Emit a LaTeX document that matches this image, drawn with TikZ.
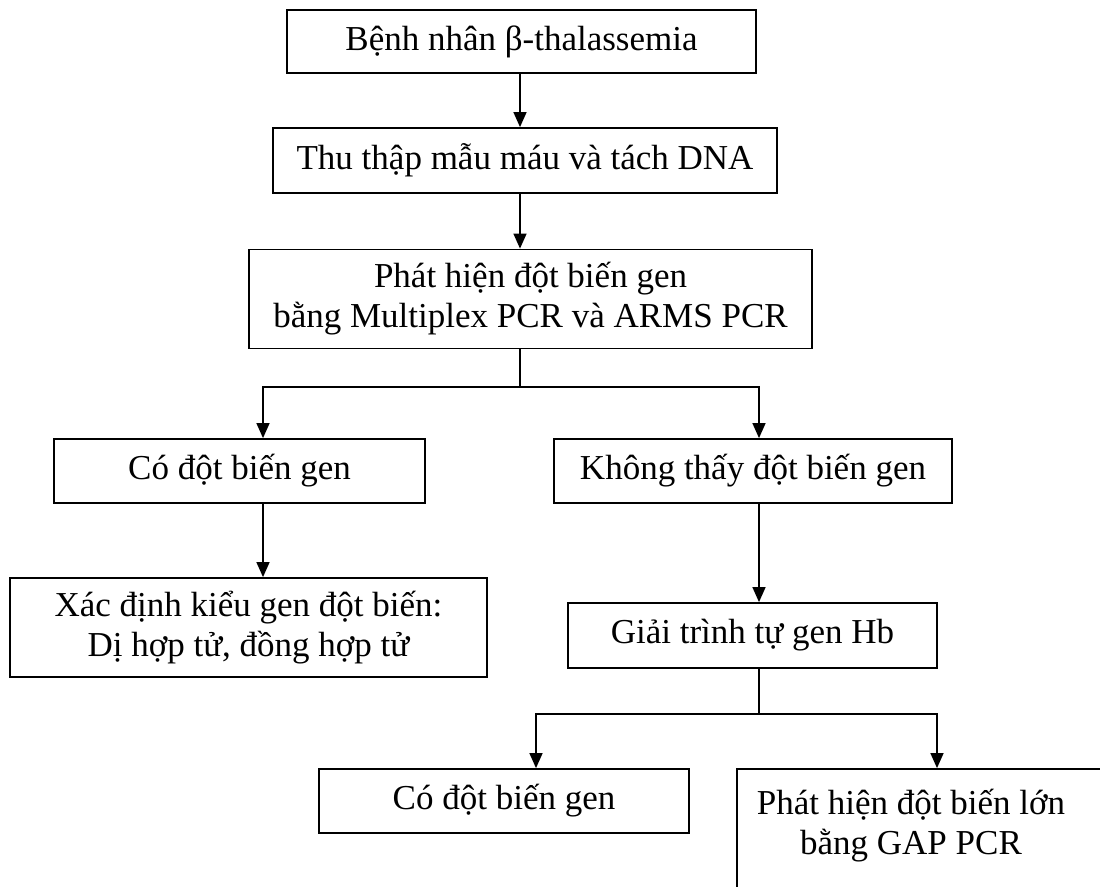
\documentclass[tikz,border=0pt]{standalone}
\usepackage{fontspec}
\setmainfont{Liberation Serif}
\usetikzlibrary{arrows.meta}
\begin{document}
\begin{tikzpicture}[x=1pt,y=-1pt,
  box/.style={draw=black,line width=1.8pt,fill=white,inner sep=0pt,align=center,
    font=\fontsize{35}{40}\selectfont},
  txt/.style={inner sep=0pt,align=center,font=\fontsize{35}{40}\selectfont},
  conn/.style={line width=1.4pt},
  arr/.style={conn,-{Triangle[length=15pt,width=13pt]}}]
\useasboundingbox (0,0) rectangle (1100,886);
\fill[white] (0,0) rectangle (1100,886);
\clip (0,0) rectangle (1100,886);
% boxes
\node[box,minimum width=469pt,minimum height=63pt] (b1) at (521.5,41.5) {Bệnh nhân β-thalassemia};
\node[box,minimum width=504pt,minimum height=65pt] (b2) at (525,160.5) {Thu thập mẫu máu và tách DNA};
\node[box,minimum width=563pt,minimum height=99pt] (b3) at (530.5,299) {Phát hiện đột biến gen\\bằng Multiplex PCR và ARMS PCR};
\node[box,minimum width=371pt,minimum height=64pt] (b4) at (239.5,471) {Có đột biến gen};
\node[box,minimum width=398pt,minimum height=64pt] (b5) at (753,471) {Không thấy đột biến gen};
\node[box,minimum width=477pt,minimum height=99pt] (b6) at (248.5,627.5) {Xác định kiểu gen đột biến:\\Dị hợp tử, đồng hợp tử};
\node[box,minimum width=369pt,minimum height=65pt] (b7) at (752.5,635.5) {Giải trình tự gen Hb};
\node[box,minimum width=370pt,minimum height=64pt] (b8) at (504,801) {Có đột biến gen};
\node[box,minimum width=400pt,minimum height=160pt] (b9) at (937,849) {};
\node[txt] (b9t) at (911,826) {Phát hiện đột biến lớn\\bằng GAP PCR};
% junction coordinates
\coordinate (cx) at (520,0);
\coordinate (sp1) at (520,387);
\coordinate (l1) at (263,387);
\coordinate (r1) at (759,387);
\coordinate (sp2) at (759,714);
\coordinate (l2) at (536,714);
\coordinate (r2) at (937,714);
% connectors
\draw[arr] (b1.south -| cx) -- (b2.north -| cx);
\draw[arr] (b2.south -| cx) -- (b3.north -| cx);
\draw[conn] (b3.south -| cx) -- (sp1);
\draw[arr] (sp1) -| (b4.north -| l1);
\draw[arr] (sp1) -| (b5.north -| r1);
\draw[arr] (b4.south -| l1) -- (b6.north -| l1);
\draw[arr] (b5.south -| r1) -- (b7.north -| r1);
\draw[conn] (b7.south -| sp2) -- (sp2);
\draw[arr] (sp2) -| (b8.north -| l2);
\draw[arr] (sp2) -| (b9.north -| r2);
\end{tikzpicture}
\end{document}
